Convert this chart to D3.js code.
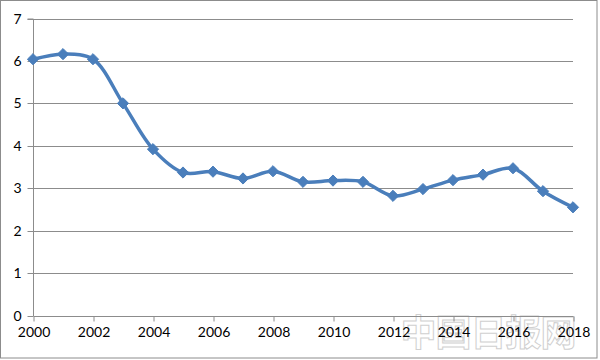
<!DOCTYPE html>
<html>
<head>
<meta charset="utf-8">
<script src="https://cdn.jsdelivr.net/npm/d3@7"></script>
<style>
  html, body { margin: 0; padding: 0; background: #fff; }
  svg { display: block; }
</style>
</head>
<body>
<script>
const years = [2000,2001,2002,2003,2004,2005,2006,2007,2008,2009,2010,2011,2012,2013,2014,2015,2016,2017,2018];
const values = [6.04,6.16,6.04,5.00,3.92,3.37,3.39,3.23,3.40,3.15,3.18,3.15,2.82,2.98,3.19,3.32,3.47,2.93,2.55];
const xTickLabels = [2000,2002,2004,2006,2008,2010,2012,2014,2016,2018];
const yTickLabels = [0,1,2,3,4,5,6,7];
const watermark = "中国日报网";

const W = 600, H = 360;
const svg = d3.select("body").append("svg").attr("width", W).attr("height", H);

// outer frame
svg.append("rect").attr("x", 0.5).attr("y", 0.5).attr("width", 596.5).attr("height", 357.5)
  .attr("fill", "#fff").attr("stroke", "#8c8c8c").attr("stroke-width", 1);

const x = d3.scaleLinear().domain([2000, 2018]).range([33, 573]);
const y = d3.scaleLinear().domain([0, 7]).range([315.5, 18.5]);

const font = "Lato, 'Open Sans', sans-serif";

// watermark (behind)
svg.append("text").attr("x", 488).attr("y", 346).attr("text-anchor", "middle")
  .attr("font-family", "'Noto Sans CJK SC', sans-serif").attr("font-size", 36).attr("font-weight", "bold")
  .attr("fill", "none").attr("stroke", "#d0d0d0").attr("stroke-width", 1)
  .attr("letter-spacing", -1)
  .text(watermark);

// gridlines
svg.append("g").selectAll("line").data(yTickLabels.filter(d => d > 0)).join("line")
  .attr("x1", x(2000)).attr("x2", x(2018))
  .attr("y1", d => Math.round(y(d)) + 0.5).attr("y2", d => Math.round(y(d)) + 0.5)
  .attr("stroke", "#8c8c8c").attr("stroke-width", 1);

// y axis
const yAxis = d3.axisLeft(y).tickValues(yTickLabels).tickSize(6).tickPadding(6).tickFormat(d3.format("d"));
const gy = svg.append("g").attr("transform", `translate(${x(2000) + 0.5},0.5)`).call(yAxis);
gy.select(".domain").attr("stroke", "#8c8c8c").attr("d", `M-6,${y(7)}H0V${y(0)}`);
gy.selectAll(".tick line").attr("stroke", "#8c8c8c");
gy.selectAll(".tick").attr("transform", d => `translate(0,${Math.round(y(d))})`);
gy.selectAll("text").attr("font-family", font).attr("font-size", 14).attr("fill", "#000");

// x axis
const xAxis = d3.axisBottom(x).tickValues(xTickLabels).tickSize(5).tickPadding(6).tickFormat(d3.format("d"));
const gx = svg.append("g").attr("transform", `translate(0.5,${Math.round(y(0)) + 0.5})`).call(xAxis);
gx.select(".domain").attr("stroke", "#8c8c8c").attr("d", `M${x(2000)},0H${x(2018)}`);
gx.selectAll(".tick line").attr("stroke", "#8c8c8c");
gx.selectAll("text").attr("font-family", font).attr("font-size", 14).attr("fill", "#000");

// line
const data = years.map((yr, i) => ({ yr, v: values[i] }));
const line = d3.line().x(d => x(d.yr)).y(d => y(d.v)).curve(d3.curveCatmullRom.alpha(0.5));
svg.append("path").datum(data).attr("d", line)
  .attr("fill", "none").attr("stroke", "#4a7ebb").attr("stroke-width", 3.5).attr("stroke-linejoin", "round");

// markers
const sym = d3.symbol().type(d3.symbolDiamond2).size(80);
svg.append("g").selectAll("path").data(data).join("path")
  .attr("d", sym)
  .attr("transform", d => `translate(${x(d.yr)},${y(d.v)})`)
  .attr("fill", "#4a7ebb").attr("stroke", "#4a7ebb").attr("stroke-width", 1);
</script>
</body>
</html>
